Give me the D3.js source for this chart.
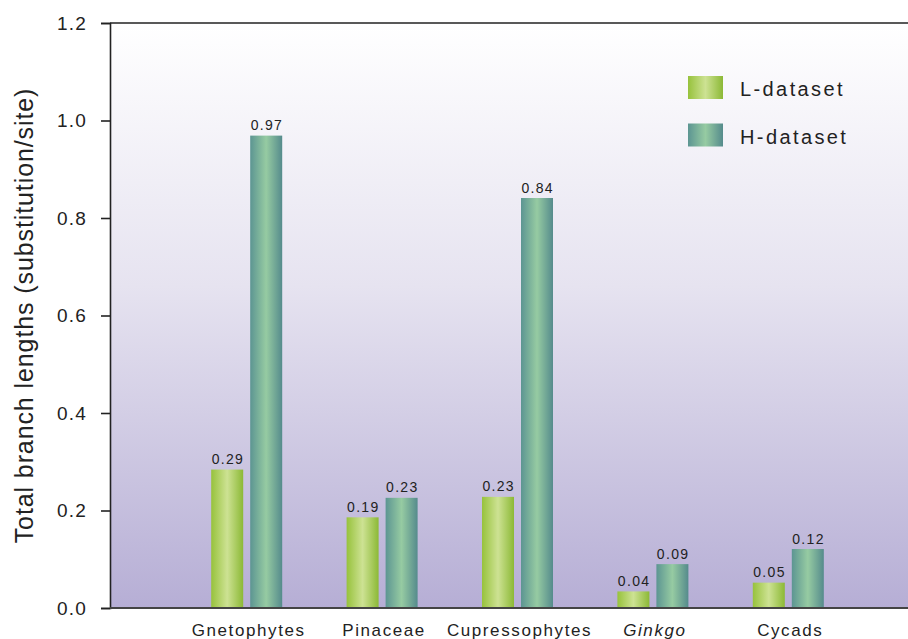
<!DOCTYPE html>
<html>
<head>
<meta charset="utf-8">
<script src="https://cdn.jsdelivr.net/npm/d3@7"></script>
<style>
  html, body { margin: 0; padding: 0; background: #fff; }
  svg { display: block; font-family: Arial, "Liberation Sans", sans-serif; }
</style>
</head>
<body>
<svg id="chart" width="908" height="639"></svg>
<script>
const groups = ["Gnetophytes", "Pinaceae", "Cupressophytes", "Ginkgo", "Cycads"];
const series = ["L-dataset", "H-dataset"];
const lValues = [0.284, 0.186, 0.228, 0.034, 0.052];
const hValues = [0.969, 0.226, 0.841, 0.090, 0.121];
const lLabels = ["0.29", "0.19", "0.23", "0.04", "0.05"];
const hLabels = ["0.97", "0.23", "0.84", "0.09", "0.12"];
const yTicks = [0, 0.2, 0.4, 0.6, 0.8, 1.0, 1.2];

const svg = d3.select("#chart");
const width = 908;
const height = 639;
const margin = { top: 23, right: 0, bottom: 31, left: 110 };
const plotBottom = height - margin.bottom;

const y = d3.scaleLinear().domain([0, 1.2]).range([plotBottom, margin.top]);
const x = d3.scaleBand().domain(groups).range([179, 856]).paddingInner(0).paddingOuter(0);
const barW = 32;
const gap = 7;

const defs = svg.append("defs");

// background: white at top fading to lavender at the baseline
const bg = defs.append("linearGradient").attr("id", "bg").attr("x1", 0).attr("y1", 0).attr("x2", 0).attr("y2", 1);
bg.append("stop").attr("offset", "0%").attr("stop-color", "#ffffff");
bg.append("stop").attr("offset", "45%").attr("stop-color", "#e6e3f0");
bg.append("stop").attr("offset", "100%").attr("stop-color", "#b6aed5");

// cylinder-like shading on bars
function barGradient(id, edgeL, mid, edgeR) {
    const g = defs.append("linearGradient").attr("id", id).attr("x1", 0).attr("y1", 0).attr("x2", 1).attr("y2", 0);
    g.append("stop").attr("offset", "0%").attr("stop-color", edgeL);
    g.append("stop").attr("offset", "50%").attr("stop-color", mid);
    g.append("stop").attr("offset", "100%").attr("stop-color", edgeR);
}
barGradient("gradL", "#97c23c", "#cde293", "#8cb936");
barGradient("gradH", "#5c9592", "#96cba2", "#558b8c");
const fills = { "L-dataset": "url(#gradL)", "H-dataset": "url(#gradH)" };

svg.append("rect")
    .attr("x", margin.left)
    .attr("y", margin.top)
    .attr("width", width - margin.left)
    .attr("height", plotBottom - margin.top)
    .attr("fill", "url(#bg)");

const rows = groups.map((g, i) => [
    { group: g, key: "L-dataset", value: lValues[i], label: lLabels[i], offset: 0 },
    { group: g, key: "H-dataset", value: hValues[i], label: hLabels[i], offset: 1 }
]).flat();

function barX(d) {
    const c = x(d.group) + x.bandwidth() / 2;
    return d.offset === 0 ? c - gap / 2 - barW : c + gap / 2;
}

svg.append("g")
    .selectAll("rect")
    .data(rows)
    .join("rect")
    .attr("x", barX)
    .attr("y", (d) => y(d.value))
    .attr("width", barW)
    .attr("height", (d) => y(0) - y(d.value))
    .attr("fill", (d) => fills[d.key]);

svg.append("g")
    .selectAll("text")
    .data(rows)
    .join("text")
    .attr("x", (d) => barX(d) + barW / 2 + 0.7)
    .attr("y", (d) => y(d.value) - 5.5)
    .attr("text-anchor", "middle")
    .attr("font-size", 14)
    .attr("letter-spacing", 1.3)
    .attr("fill", "#222")
    .text((d) => d.label);

// axes
const yAxis = svg.append("g")
    .attr("transform", `translate(${margin.left},0)`)
    .call(d3.axisLeft(y).tickValues(yTicks).tickFormat(d3.format(".1f")).tickSize(9).tickPadding(14));
yAxis.select(".domain").attr("stroke", "#222").attr("stroke-width", 1.6);
yAxis.selectAll(".tick line").attr("stroke", "#222").attr("stroke-width", 1.6);
yAxis.selectAll(".tick text")
    .attr("font-size", 19)
    .attr("letter-spacing", 1.2)
    .attr("font-family", "Arial, 'Liberation Sans', sans-serif")
    .attr("fill", "#222");

svg.append("line")
    .attr("x1", margin.left).attr("x2", width)
    .attr("y1", y(1.2)).attr("y2", y(1.2))
    .attr("stroke", "#222").attr("stroke-width", 1.6);
svg.append("line")
    .attr("x1", margin.left).attr("x2", width)
    .attr("y1", y(0)).attr("y2", y(0))
    .attr("stroke", "#444").attr("stroke-width", 1.8);

svg.append("g")
    .selectAll("text")
    .data(groups)
    .join("text")
    .attr("x", (d) => x(d) + x.bandwidth() / 2 + 2)
    .attr("y", 636)
    .attr("text-anchor", "middle")
    .attr("font-size", 17)
    .attr("letter-spacing", 1.6)
    .attr("font-style", (d) => (d === "Ginkgo" ? "italic" : "normal"))
    .attr("fill", "#222")
    .text((d) => d);

svg.append("text")
    .attr("transform", `translate(33,${(margin.top + plotBottom) / 2}) rotate(-90)`)
    .attr("text-anchor", "middle")
    .attr("font-size", 25)
    .attr("letter-spacing", 0.9)
    .attr("fill", "#222")
    .text("Total branch lengths (substitution/site)");

// legend
const legend = svg.append("g").attr("transform", "translate(688,76)");
series.forEach((s, i) => {
    const row = legend.append("g").attr("transform", `translate(0,${i * 47.5})`);
    row.append("rect").attr("width", 35).attr("height", 23).attr("fill", fills[s]);
    row.append("text")
        .attr("x", 52)
        .attr("y", 20)
        .attr("font-size", 20)
        .attr("letter-spacing", 2.4)
        .attr("fill", "#222")
        .text(s);
});
</script>
</body>
</html>
